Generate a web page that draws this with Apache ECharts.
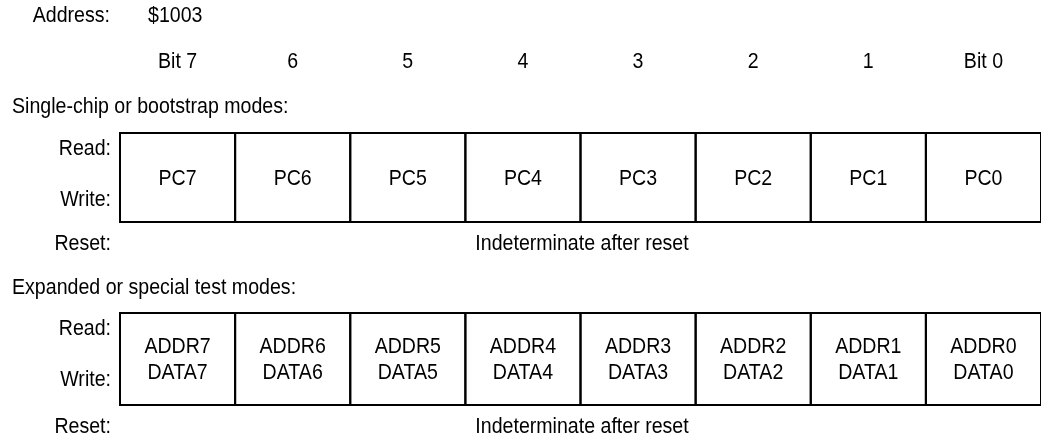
<!DOCTYPE html>
<html>
<head>
<meta charset="utf-8">
<script src="https://cdn.jsdelivr.net/npm/echarts@6/dist/echarts.min.js"></script>
<style>
html,body{margin:0;padding:0;background:#fff;}
#chart{width:1041px;height:438px;}
</style>
</head>
<body>
<div id="chart"></div>
<script>
// ---- data ----
const address = '$1003';
const bitLabels = ['Bit 7', '6', '5', '4', '3', '2', '1', 'Bit 0'];
const singleChipFields = ['PC7', 'PC6', 'PC5', 'PC4', 'PC3', 'PC2', 'PC1', 'PC0'];
const expandedAddr = ['ADDR7', 'ADDR6', 'ADDR5', 'ADDR4', 'ADDR3', 'ADDR2', 'ADDR1', 'ADDR0'];
const expandedData = ['DATA7', 'DATA6', 'DATA5', 'DATA4', 'DATA3', 'DATA2', 'DATA1', 'DATA0'];
const sectionTitles = ['Single-chip or bootstrap modes:', 'Expanded or special test modes:'];
const resetText = 'Indeterminate after reset';

const FONT = '"Liberation Sans", Arial, Helvetica, sans-serif';
const FS = 22;
const SX = 0.89;
const INK = '#000';

const fieldLabels = [
  singleChipFields,
  expandedAddr.map((a, i) => a + '\n' + expandedData[i])
];

const chart = echarts.init(document.getElementById('chart'), null, {renderer: 'canvas'});

function makeRender(gi, withBits) {
  return function (params, api) {
    const idx = api.value(0);
    const p0 = api.coord([idx, 0]);
    const p1 = api.coord([idx, 1]);
    const w = api.size([1, 0])[0];
    const x = p0[0] - w / 2;
    const y = p1[1];
    const h = p0[1] - p1[1];
    const children = [
      {type: 'rect', shape: {x: x, y: y, width: w, height: h},
       style: {fill: 'none', stroke: '#000', lineWidth: 2}},
      {type: 'text', x: x + w / 2, y: y + h / 2 + 1, scaleX: SX,
       style: {x: 0, y: 0, text: fieldLabels[gi][params.dataIndex],
        fill: INK, font: FS + 'px ' + FONT, align: 'center', verticalAlign: 'middle', lineHeight: 26}}
    ];
    if (withBits) {
      children.push({type: 'text', x: x + w / 2, y: y - 71, scaleX: SX,
        style: {x: 0, y: 0, text: bitLabels[params.dataIndex], fill: INK,
          font: FS + 'px ' + FONT, align: 'center', verticalAlign: 'middle'}});
    }
    return {type: 'group', children: children};
  };
}

const text = (t, x, y, align) => ({
  type: 'text', x: x, y: y, scaleX: SX,
  style: {text: t, fill: INK, font: FS + 'px ' + FONT, align: align || 'left', verticalAlign: 'middle'}
});

chart.setOption({
  animation: false,
  backgroundColor: '#fff',
  grid: [
    {left: 120, top: 133, width: 924, height: 89},
    {left: 120, top: 313, width: 924, height: 92}
  ],
  xAxis: [
    {type: 'category', gridIndex: 0, data: bitLabels, show: false},
    {type: 'category', gridIndex: 1, data: bitLabels, show: false}
  ],
  yAxis: [
    {type: 'value', gridIndex: 0, min: 0, max: 1, show: false},
    {type: 'value', gridIndex: 1, min: 0, max: 1, show: false}
  ],
  series: [
    {type: 'custom', xAxisIndex: 0, yAxisIndex: 0, renderItem: makeRender(0, true), clip: false,
     data: singleChipFields.map((f, i) => [i])},
    {type: 'custom', xAxisIndex: 1, yAxisIndex: 1, renderItem: makeRender(1, false), clip: false,
     data: expandedAddr.map((f, i) => [i])}
  ],
  graphic: [
    text('Address:', 110, 16, 'right'),
    text(address, 148, 16),
    text(sectionTitles[0], 12, 107),
    text('Read:', 111, 149, 'right'),
    text('Write:', 111, 200, 'right'),
    text('Reset:', 111, 244, 'right'),
    text(resetText, 582, 244, 'center'),
    text(sectionTitles[1], 12, 288),
    text('Read:', 111, 329, 'right'),
    text('Write:', 111, 380, 'right'),
    text('Reset:', 111, 427, 'right'),
    text(resetText, 582, 427, 'center')
  ]
});
</script>
</body>
</html>
